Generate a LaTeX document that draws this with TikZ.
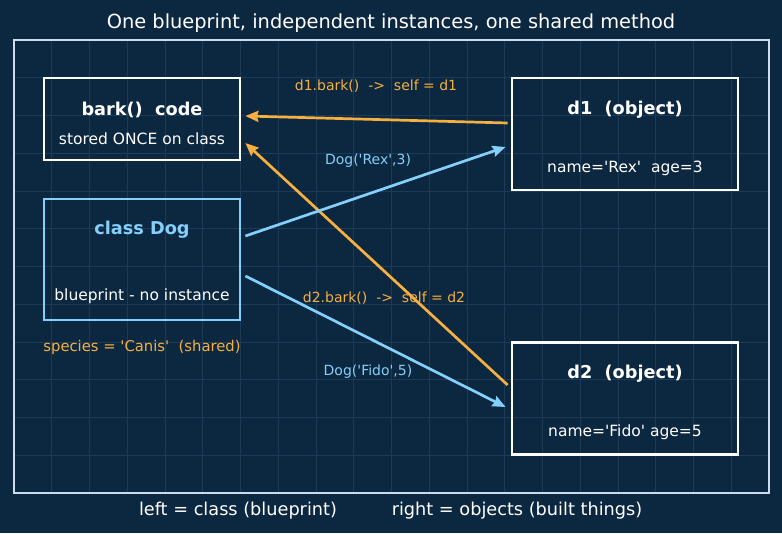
\documentclass[tikz,border=0pt]{standalone}
\usepackage{fontspec}
\setmainfont{DejaVu Sans}[Ligatures=TeXOff]
\usetikzlibrary{arrows.meta}
\definecolor{bg}{HTML}{0C2740}
\definecolor{gridc}{HTML}{1C3B58}
\definecolor{framec}{HTML}{C9DDEE}
\definecolor{orng}{HTML}{F5B041}
\definecolor{lblue}{HTML}{85D0FA}
\tikzset{
  box/.style={draw=white,line width=2.8pt,minimum width=196pt,minimum height=82pt,inner sep=0pt},
  objbox/.style={draw=white,line width=2.8pt,minimum width=226pt,minimum height=112pt,inner sep=0pt},
  head/.style={font=\fontsize{17.7}{19}\selectfont\bfseries,text=white,inner sep=0pt},
  body/.style={font=\fontsize{15.5}{17}\selectfont,text=white,inner sep=0pt},
  lbl/.style={font=\fontsize{14}{15}\selectfont,inner sep=0pt},
  conn/.style={line width=2.7pt,-{Stealth[length=13pt,width=11pt,inset=1.5pt]}},
}
\begin{document}
\begin{tikzpicture}[x=1pt,y=-1pt]
\fill[bg] (0,0) rectangle (782,533);
\useasboundingbox (0,0) rectangle (782,533);
% grid
\foreach \i in {1,...,19} {\draw[gridc,line width=0.6pt] ({14+\i*37.75},40) -- ({14+\i*37.75},493);}
\foreach \j in {1,...,11} {\draw[gridc,line width=0.6pt] (14,{40+\j*37.75}) -- (769,{40+\j*37.75});}
\draw[framec,line width=1.6pt] (14,40) rectangle (769,493);
% title
\node[font=\fontsize{19.4}{21}\selectfont,text=white,inner sep=0pt] (title) at (391,23.5) {One blueprint, independent instances, one shared method};
% boxes
\node[box] (bark) at (142,119) {};
\node[head] (barkh) at (142,110) {bark()\ \ code};
\node[body] (barkb) at (142,138.5) {stored ONCE on class};
\node[box,draw=lblue,minimum height=121pt] (dog) at (142,259.5) {};
\node[head,text=lblue] (dogh) at (142,230) {class Dog};
\node[body] (dogb) at (142,296.5) {blueprint - no instance};
\node[body,text=orng,font=\fontsize{14.8}{16}\selectfont] (species) at (142,347.5) {species = 'Canis'\ \ (shared)};
\node[objbox] (d1) at (625,134) {};
\node[head] (d1h) at (625,110) {d1\ \ (object)};
\node[body] (d1b) at (625,168.5) {name='Rex'\ \ age=3};
\node[objbox] (d2) at (625,398.5) {};
\node[head] (d2h) at (625,374) {d2\ \ (object)};
\node[body] (d2b) at (625,432.5) {name='Fido' age=5};
% connectors
\draw[conn,orng] ([xshift=-3pt,yshift=11pt]d1.west) -- ([xshift=4pt,yshift=3pt]bark.east);
\draw[conn,orng] ([xshift=-3pt,yshift=13.5pt]d2.west) -- ([xshift=4pt,yshift=-24pt]bark.east);
\draw[conn,lblue] ([xshift=4pt,yshift=23.5pt]dog.east) -- ([xshift=-5pt,yshift=-13pt]d1.west);
\draw[conn,lblue] ([xshift=4pt,yshift=-16.5pt]dog.east) -- ([xshift=-5pt,yshift=-8.5pt]d2.west);
% labels
\node[lbl,text=orng] (l1) at (376,86) {d1.bark()\ \ ->\ \ self = d1};
\node[lbl,text=lblue] (l2) at (368,161) {Dog('Rex',3)};
\node[lbl,text=orng] (l3) at (384,298) {d2.bark()\ \ ->\ \ self = d2};
\node[lbl,text=lblue] (l4) at (368,372) {Dog('Fido',5)};
% bottom
\node[font=\fontsize{17.7}{19}\selectfont,text=white,inner sep=0pt] (bl) at (238,510.5) {left = class (blueprint)};
\node[font=\fontsize{17.7}{19}\selectfont,text=white,inner sep=0pt] (br) at (517,510.5) {right = objects (built things)};
\end{tikzpicture}
\end{document}
